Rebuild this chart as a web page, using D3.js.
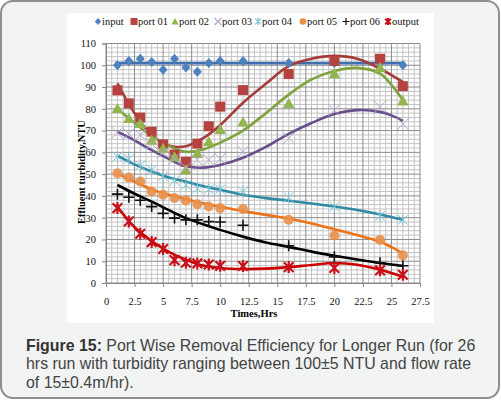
<!DOCTYPE html>
<html>
  <head>
    <script src="https://d3js.org/d3.v7.min.js"></script>
    <style>
      body { margin: 0; }
    </style>
  </head>
  <body>
<script type="text/javascript">
// measured points (hours on x)
var hours = [1, 2, 3, 4, 5, 6, 7, 8, 9, 10, 12, 16, 20, 24, 26];
var input  = [100, 102, 103, 101.5, 98, 103, 99, 97, 101, 102, 102, 101, 101, 101, 100];
var port01 = [88.5, 82.5, 76, 69.5, 63.7, 59, 55.7, 64, 72, 81, 88.6, 96, 102, 103, 90.4];
var port02 = [80.2, 75.6, 73.3, 65.7, 61.9, 58, 52, 59.6, 65, 70.6, 74, 82.5, 96.2, 99, 83.7];
var port03 = [69, 68.5, 68, 64, 60, 57, 53, 56.5, 56.5, 57, 60.3, 66.5, 79.4, 81, 73];
var port04 = [58, 57, 54, 52, 49, 47, 45, 43.5, 43, 43, 42, 39.4, 35.1, 30.8, 29];
var port05 = [50.4, 48.4, 46.6, 42, 40.5, 39, 37.9, 36.2, 35.1, 34.4, 34, 29, 21.8, 19.8, 12.7];
var port06 = [40.8, 39.4, 38, 35.1, 32, 29.8, 29, 29, 28.2, 28, 26.5, 17.1, 12, 9.3, 7.9];
var output = [34.4, 28.3, 22.6, 18.8, 15.6, 10.5, 9.3, 9, 8.5, 7.9, 7.8, 7.3, 6.9, 5.8, 3.8];

// trend lines
var fitHours = [1, 2.5, 4, 5.5, 7, 8.5, 10, 12, 14, 16, 18, 20, 22, 24, 25, 26];
var inputFitHours = [0.8, 26.2];
var inputFit  = [101, 101];
var port01Fit = [91.7, 78, 68, 63.2, 62.8, 66.5, 72.5, 82.8, 91.5, 99.6, 103, 104.3, 103, 98.5, 95.5, 92.4];
var port02Fit = [80, 73.5, 67.5, 63, 60.3, 61.3, 64.5, 70, 78, 86.5, 93.5, 97.4, 98.8, 96.2, 91, 84];
var port03Fit = [69.5, 65.5, 61, 57, 53.6, 53, 54.2, 57.5, 62.5, 68.5, 73.5, 77.6, 79.4, 78.6, 77, 74.5];
var port04Fit = [58.5, 54.5, 51.2, 48.5, 46.5, 44.5, 42.8, 40.5, 39, 37.8, 36.5, 35.1, 33.5, 31.5, 30.3, 29];
var port05Fit = [50.2, 46.5, 43, 40.5, 38.5, 36.6, 35, 33, 31.3, 29.6, 27.3, 24.7, 22, 19, 16.5, 13.7];
var port06Fit = [45, 41, 37.4, 33.5, 29.8, 27, 24.4, 21.3, 18.6, 16.6, 14.4, 12.5, 10.8, 9.2, 8.5, 7.9];
var outputFit = [35, 25.6, 19.3, 14.3, 10.7, 8, 6.9, 6.4, 6.6, 7.3, 8.3, 9.2, 8.4, 6.1, 4.6, 3];

var seriesNames = ['input', 'port 01', 'port 02', 'port 03', 'port 04', 'port 05', 'port 06', 'output'];
var xTicks = [0, 2.5, 5, 7.5, 10, 12.5, 15, 17.5, 20, 22.5, 25, 27.5];
var yTicks = [0, 10, 20, 30, 40, 50, 60, 70, 80, 90, 100, 110];

var captionLines = [
  ['Figure 15:', ' Port Wise Removal Efficiency for Longer Run (for 26'],
  ['', 'hrs run with turbidity ranging between 100\u00b15 NTU and flow rate'],
  ['', 'of 15\u00b10.4m/hr).']
];

var series = [
  {name: 'input',   vals: input,  fx: inputFitHours, fit: inputFit,  marker: 'diamond',  fill: '#4f81bd', stroke: 'none',    line: '#3e6fb0'},
  {name: 'port 01', vals: port01, fx: fitHours, fit: port01Fit, marker: 'square',   fill: '#b5423f', stroke: 'none',    line: '#a53c3a'},
  {name: 'port 02', vals: port02, fx: fitHours, fit: port02Fit, marker: 'triangle', fill: '#92b550', stroke: 'none',    line: '#7fa23e'},
  {name: 'port 03', vals: port03, fx: fitHours, fit: port03Fit, marker: 'x',        fill: 'none',    stroke: '#b4a6cc', line: '#6a4f8c'},
  {name: 'port 04', vals: port04, fx: fitHours, fit: port04Fit, marker: 'star',     fill: 'none',    stroke: '#7ec3d6', line: '#2f8aa3'},
  {name: 'port 05', vals: port05, fx: fitHours, fit: port05Fit, marker: 'circle',   fill: '#e8904c', stroke: 'none',    line: '#ed7317'},
  {name: 'port 06', vals: port06, fx: fitHours, fit: port06Fit, marker: 'plus',     fill: 'none',    stroke: '#111111', line: '#000000'},
  {name: 'output',  vals: output, fx: fitHours, fit: outputFit, marker: 'star',     fill: 'none',    stroke: '#c8101a', line: '#cc0000'}
];

var W = 501, H = 401;
var svg = d3.select('body').append('svg')
      .attr('width', W)
      .attr('height', H);

// card
svg.append('rect')
    .attr('x', 1).attr('y', 1).attr('width', 498).attr('height', 397)
    .attr('rx', 12).attr('ry', 12)
    .attr('fill', '#f2f3f3')
    .attr('stroke', '#8f8f8f')
    .attr('stroke-width', 2);

// white chart picture
svg.append('rect')
    .attr('x', 67).attr('y', 13).attr('width', 367).attr('height', 310)
    .attr('fill', '#ffffff');

var x = d3.scaleLinear().domain([0, 27.5]).range([106, 420]);
var y = d3.scaleLinear().domain([0, 110]).range([283, 43.5]);

// grid
var grid = svg.append('g');
var xMinor = d3.range(0, 55.5).map(function(i) { return i * 0.5; });
var yMinor = d3.range(0, 56).map(function(i) { return i * 2; });

grid.selectAll('line.vx')
    .data(xMinor.filter(function(d) { return Math.round(d * 2) % 5 != 0; }))
    .enter().append('line')
    .attr('x1', function(d) { return x(d); }).attr('x2', function(d) { return x(d); })
    .attr('y1', y(110)).attr('y2', y(0))
    .attr('stroke', '#c4c4c4').attr('stroke-width', 1);
grid.selectAll('line.hy')
    .data(yMinor.filter(function(d) { return d % 10 != 0; }))
    .enter().append('line')
    .attr('x1', x(0)).attr('x2', x(27.5))
    .attr('y1', function(d) { return y(d); }).attr('y2', function(d) { return y(d); })
    .attr('stroke', '#c4c4c4').attr('stroke-width', 1);
grid.selectAll('line.mx')
    .data(xTicks)
    .enter().append('line')
    .attr('x1', function(d) { return x(d); }).attr('x2', function(d) { return x(d); })
    .attr('y1', y(110)).attr('y2', y(0))
    .attr('stroke', '#8c8c8c').attr('stroke-width', 1);
grid.selectAll('line.my')
    .data(yTicks)
    .enter().append('line')
    .attr('x1', x(0)).attr('x2', x(27.5))
    .attr('y1', function(d) { return y(d); }).attr('y2', function(d) { return y(d); })
    .attr('stroke', '#8c8c8c').attr('stroke-width', 1);

// axes
var xAxis = svg.append('g')
    .attr('transform', 'translate(0,' + y(0) + ')')
    .call(d3.axisBottom(x).tickValues(xTicks).tickSize(4).tickPadding(11)
          .tickFormat(function(d) { return String(d); }));
var yAxis = svg.append('g')
    .attr('transform', 'translate(' + x(0) + ',0)')
    .call(d3.axisLeft(y).tickValues(yTicks).tickSize(4).tickPadding(6));

[xAxis, yAxis].forEach(function(a) {
  a.select('.domain').attr('stroke', '#868686');
  a.selectAll('.tick line').attr('stroke', '#868686');
  a.selectAll('.tick text')
      .attr('font-family', '"Liberation Serif", "Times New Roman", serif')
      .attr('font-size', '10.5px')
      .attr('fill', '#111');
});

svg.append('text')
    .attr('x', 254).attr('y', 317)
    .attr('text-anchor', 'middle')
    .attr('font-family', '"Liberation Serif", "Times New Roman", serif')
    .attr('font-size', '10.5px').attr('font-weight', 'bold')
    .text('Times,Hrs');

svg.append('text')
    .attr('transform', 'translate(85,172) rotate(-90)')
    .attr('text-anchor', 'middle')
    .attr('font-family', '"Liberation Serif", "Times New Roman", serif')
    .attr('font-size', '10.5px').attr('font-weight', 'bold')
    .text('Effluent turbidity,NTU');

function markerPath(type, s) {
  if (type == 'diamond') return 'M0,' + (-s) + 'L' + s * 0.9 + ',0L0,' + s + 'L' + (-s * 0.9) + ',0Z';
  if (type == 'square') return 'M' + (-s) + ',' + (-s) + 'H' + s + 'V' + s + 'H' + (-s) + 'Z';
  if (type == 'triangle') return 'M0,' + (-s) + 'L' + s * 1.05 + ',' + s * 0.85 + 'L' + (-s * 1.05) + ',' + s * 0.85 + 'Z';
  if (type == 'circle') return d3.symbol(d3.symbolCircle, Math.PI * s * s)();
  if (type == 'plus') return 'M' + (-s) + ',0H' + s + 'M0,' + (-s) + 'V' + s;
  if (type == 'x') return 'M' + (-s) + ',' + (-s) + 'L' + s + ',' + s + 'M' + (-s) + ',' + s + 'L' + s + ',' + (-s);
  if (type == 'star') {
    var k = s * 0.8;
    return 'M' + (-k) + ',' + (-k) + 'L' + k + ',' + k + 'M' + (-k) + ',' + k + 'L' + k + ',' + (-k) +
           'M0,' + (-s) + 'V' + s;
  }
}

var markerSize = {diamond: 5, square: 5, triangle: 5.5, circle: 5, plus: 5.5, x: 6, star: 6};

var line = d3.line()
    .x(function(d) { return x(d[0]); })
    .y(function(d) { return y(d[1]); })
    .curve(d3.curveCatmullRom.alpha(0.5));

// trend lines underneath
series.forEach(function(s) {
  svg.append('path')
      .datum(d3.zip(s.fx, s.fit))
      .attr('d', line)
      .attr('fill', 'none')
      .attr('stroke', s.line)
      .attr('stroke-width', 2.6);
});

// markers
series.forEach(function(s) {
  svg.append('g')
      .selectAll('path')
      .data(d3.zip(hours, s.vals))
      .enter()
      .append('path')
      .attr('transform', function(d) { return 'translate(' + x(d[0]) + ',' + y(d[1]) + ')'; })
      .attr('d', markerPath(s.marker, markerSize[s.marker]))
      .attr('fill', s.fill)
      .attr('fill-opacity', s.marker == 'circle' ? 0.9 : 1)
      .attr('stroke', s.stroke)
      .attr('stroke-width', s.name == 'output' ? 2.2 : (s.name == 'port 06' ? 1.6 : 1));
});

// legend
var legendX = [98, 134, 175, 218, 258, 303, 346, 388];
var legend = svg.append('g');
series.forEach(function(s, i) {
  var g = legend.append('g').attr('transform', 'translate(' + legendX[i] + ',21.5)');
  g.append('path')
      .attr('d', markerPath(s.marker, s.marker == 'circle' ? 3.3 : 3.5))
      .attr('fill', s.fill)
      .attr('stroke', s.stroke)
      .attr('stroke-width', s.name == 'output' ? 2 : 1.2);
  g.append('text')
      .attr('x', 4).attr('y', 3.8)
      .attr('font-family', '"Liberation Serif", "Times New Roman", serif')
      .attr('font-size', '10.5px')
      .attr('fill', '#111')
      .text(seriesNames[i]);
});

// caption
var cap = svg.append('g');
captionLines.forEach(function(l, i) {
  var t = cap.append('text')
      .attr('x', 26).attr('y', 350.5 + i * 18.5)
      .attr('font-family', '"Liberation Sans", Arial, sans-serif')
      .attr('font-size', '15.9px')
      .attr('fill', '#444');
  if (l[0]) t.append('tspan').attr('font-weight', 'bold').attr('fill', '#333').text(l[0]);
  t.append('tspan').text(l[1]);
});
</script>
  </body>
</html>
